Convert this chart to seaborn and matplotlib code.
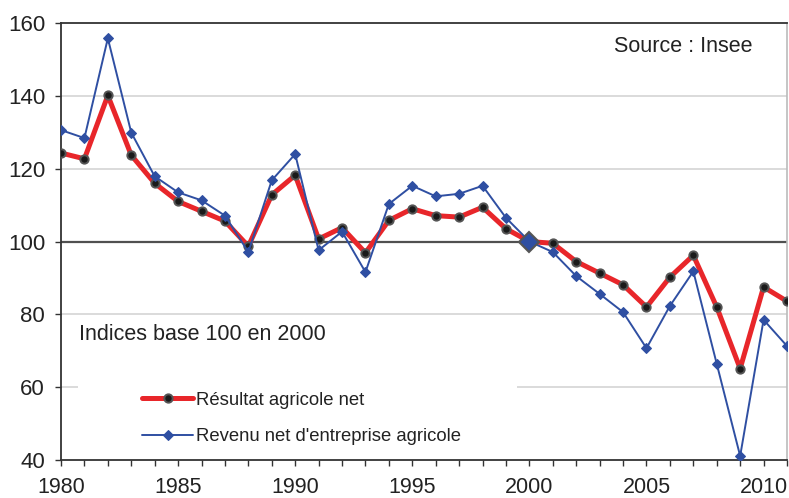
import numpy as np
import pandas as pd
import matplotlib
matplotlib.use('Agg')
import matplotlib.pyplot as plt
from matplotlib.patches import Rectangle
import seaborn as sns

years = list(range(1980, 2012))
resultat = [124.3, 122.7, 140.1, 123.7, 116.0, 111.0, 108.3, 105.6, 98.7, 112.8,
            118.2, 100.7, 103.8, 96.9, 105.8, 109.0, 107.1, 106.7, 109.4, 103.5,
            100.0, 99.5, 94.5, 91.3, 88.1, 82.0, 90.2, 96.2, 82.0, 65.1,
            87.5, 83.6]
revenu = [130.6, 128.4, 155.8, 129.9, 117.9, 113.5, 111.3, 107.1, 97.1, 116.8,
          124.0, 97.6, 102.7, 91.6, 110.3, 115.3, 112.4, 113.1, 115.3, 106.5,
          100.0, 97.1, 90.5, 85.6, 80.6, 70.7, 82.3, 91.8, 66.4, 41.1,
          78.5, 71.3]
label_res = "Résultat agricole net"
label_rev = "Revenu net d'entreprise agricole"

df = pd.DataFrame({'annee': years, 'resultat': resultat, 'revenu': revenu})

sns.set_style('white')
plt.rcParams['font.family'] = ['Liberation Sans', 'DejaVu Sans']

W, H = 789, 498
fig = plt.figure(figsize=(W / 100, H / 100), dpi=100)
ax = fig.add_axes([61 / W, 1 - 460 / H, (787 - 61) / W, (460 - 23) / H])

red = '#e8262a'
blue = '#2f4fa2'

# grid
for y in [60, 80, 120, 140]:
    ax.axhline(y, color='#d4d4d4', lw=1.2, zorder=0)
ax.axhline(100, color='#505050', lw=1.6, zorder=1)

# white box behind the legend (hides part of the 60 grid line)
ax.add_patch(Rectangle((1980.73, 45), 18.74, 28, facecolor='white', edgecolor='none', zorder=0.5))

sns.lineplot(data=df, x='annee', y='resultat', ax=ax, color=red, lw=3.6,
             marker='o', markersize=6, markerfacecolor='#1a1a1a',
             markeredgecolor='#555555', markeredgewidth=1.4, label=label_res, zorder=3)
sns.lineplot(data=df, x='annee', y='revenu', ax=ax, color=blue, lw=1.4,
             marker='D', markersize=5.5, markerfacecolor=blue,
             markeredgecolor=blue, label=label_rev, zorder=4)
# base year marker
base = df[df['annee'] == 2000]
ax.plot(base['annee'], base['revenu'], marker='D', markersize=10,
        markerfacecolor=blue, markeredgecolor='#555555', markeredgewidth=1.5,
        ls='none', zorder=5)

ax.set_xlim(1980, 2011)
ax.set_ylim(40, 160)
ax.set_xticks(range(1980, 2011, 5))
ax.set_xticks(range(1980, 2012), minor=True)
ax.set_yticks(range(40, 161, 20))
ax.set_xlabel('')
ax.set_ylabel('')
ax.tick_params(axis='y', labelsize=16, colors='#222222')
ax.tick_params(axis='x', labelsize=15.5, colors='#222222')
ax.tick_params(axis='x', which='both', direction='out', length=4.5, width=1, bottom=True,
               color='#333333', pad=7.5)
ax.tick_params(axis='y', which='both', direction='out', length=4.5, width=1, left=True,
               color='#333333', pad=7)

for s in ['left', 'bottom', 'top']:
    ax.spines[s].set_color('#333333')
    ax.spines[s].set_linewidth(1.3)
ax.spines['right'].set_color('#bbbbbb')
ax.spines['right'].set_linewidth(1.2)

ax.text(752 / W, 1 - 47 / H, 'Source : Insee', transform=fig.transFigure, ha='right',
        va='center', fontsize=15.5, color='#222222')
ax.text(79 / W, 1 - 334 / H, 'Indices base 100 en 2000', transform=fig.transFigure,
        ha='left', va='center', fontsize=15.5, color='#222222')

leg = ax.legend(loc='center left', bbox_to_anchor=(142 / W, 1 - 418.5 / H),
                bbox_transform=fig.transFigure, frameon=False,
                fontsize=13.3, handlelength=2.78, handletextpad=0.17, labelspacing=1.05,
                borderpad=0, borderaxespad=0)
for t in leg.get_texts():
    t.set_color('#222222')

fig.savefig('out.png', dpi=100)
